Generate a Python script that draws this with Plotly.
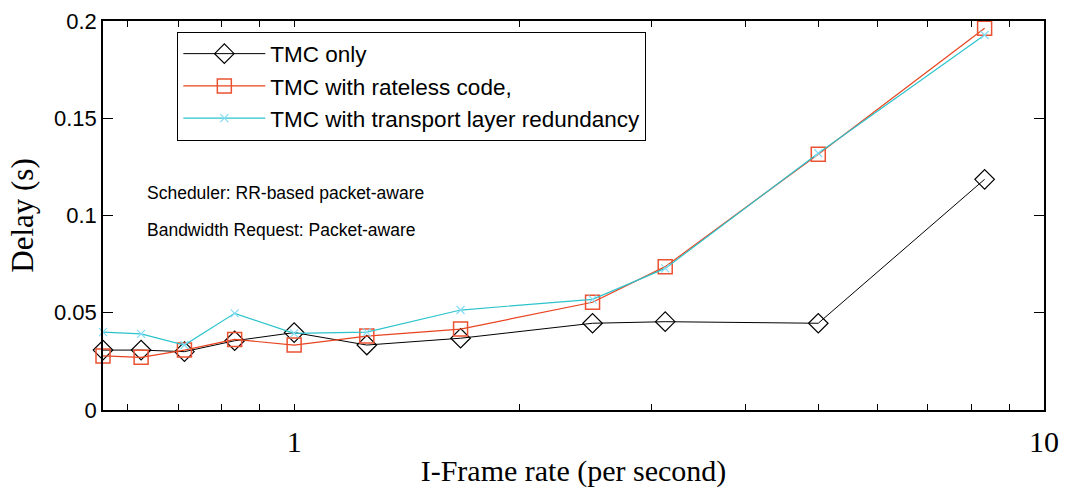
import numpy as np
import plotly.graph_objects as go

# I-Frame rate (per second)
iframe_rate = [0.556, 0.625, 0.714, 0.833, 1.0, 1.25, 1.667, 2.5, 3.125, 5.0, 8.333]

# Delay (s) for each scheme
delay_tmc_only = [0.0308, 0.0308, 0.0300, 0.0356, 0.0398, 0.0334, 0.0369, 0.0446, 0.0454, 0.0446, 0.1186]
delay_rateless = [0.0278, 0.0271, 0.0308, 0.0363, 0.0334, 0.0380, 0.0416, 0.0554, 0.0737, 0.1315, 0.1963]
delay_transport = [0.0400, 0.0391, 0.0334, 0.0497, 0.0394, 0.0400, 0.0514, 0.0569, 0.0728, 0.1320, 0.1928]

series_names = ["TMC only", "TMC with rateless code,", "TMC with transport layer redundancy"]

y_tick_vals = [0, 0.05, 0.1, 0.15, 0.2]
y_tick_text = ["0", "0.05", "0.1", "0.15", "0.2"]
x_tick_vals = [1, 10]
x_tick_text = ["1", "10"]
x_minor_vals = [0.6, 0.7, 0.8, 0.9, 2, 3, 4, 5, 6, 7, 8, 9]

notes = ["Scheduler: RR-based packet-aware", "Bandwidth Request: Packet-aware"]

SANS = "Liberation Sans, Arial, sans-serif"
SERIF = "Liberation Serif, Times New Roman, serif"

fig = go.Figure()

fig.add_trace(go.Scatter(
    x=iframe_rate, y=delay_tmc_only, name=series_names[0], legendgroup="a",
    mode="lines+markers", cliponaxis=False,
    line=dict(color="black", width=1),
    marker=dict(symbol="diamond-open", size=15, color="black", line=dict(width=1.2, color="black")),
))
fig.add_trace(go.Scatter(
    x=iframe_rate, y=delay_rateless, name=series_names[1], legendgroup="b",
    mode="lines+markers", cliponaxis=False,
    line=dict(color="#e8431f", width=1.2),
    marker=dict(symbol="square-open", size=14, color="#ea5232", line=dict(width=1.5, color="#ea5232")),
))
fig.add_trace(go.Scatter(
    x=iframe_rate, y=delay_transport, name=series_names[2], legendgroup="c",
    mode="lines+markers", cliponaxis=False,
    line=dict(color="#2cc3cb", width=1.2),
    marker=dict(symbol="x-thin-open", size=8, color="#86dcf6", line=dict(width=1.2, color="#86dcf6")),
))

# text notes inside the plotting area
for txt, ypos in zip(notes, [0.557, 0.463]):
    fig.add_annotation(
        text=txt, xref="paper", yref="paper", x=0.045, y=ypos,
        xanchor="left", yanchor="middle", showarrow=False,
        font=dict(family=SANS, size=17.5, color="black"),
    )

fig.update_xaxes(
    type="log", range=[np.log10(min(iframe_rate)), 1], automargin=False,
    tickmode="array", tickvals=x_tick_vals, ticktext=x_tick_text,
    ticks="inside", ticklen=6, tickcolor="black", tickwidth=1,
    minor=dict(tickmode="array", tickvals=x_minor_vals, ticks="inside", ticklen=6,
               tickcolor="black", tickwidth=1, showgrid=False),
    showline=True, linecolor="black", linewidth=1.5, mirror="ticks",
    showgrid=False, zeroline=False,
    tickfont=dict(family=SERIF, size=30, color="black"),
    ticklabelstandoff=4,
    title=dict(text="I-Frame rate (per second)", font=dict(family=SERIF, size=30, color="black"), standoff=3),
)
fig.update_yaxes(
    range=[0, 0.2], automargin=False, tickmode="array", tickvals=y_tick_vals, ticktext=y_tick_text,
    ticks="inside", ticklen=10, tickcolor="black", tickwidth=1,
    showline=True, linecolor="black", linewidth=1.5, mirror="ticks",
    showgrid=False, zeroline=False,
    tickfont=dict(family=SANS, size=22, color="black"),
    title=dict(text="Delay (s)", font=dict(family=SERIF, size=31, color="black"), standoff=11),
)

fig.update_layout(
    width=1065, height=492,
    margin=dict(l=103, r=21, t=21, b=82),
    paper_bgcolor="white", plot_bgcolor="white",
    showlegend=True,
    legend=dict(
        x=0.079, y=0.973, xanchor="left", yanchor="top",
        bgcolor="white", bordercolor="black", borderwidth=1,
        font=dict(family=SANS, size=22.5, color="black"),
        itemwidth=82, tracegroupgap=0,
    ),
)

fig.write_html("out.html")
